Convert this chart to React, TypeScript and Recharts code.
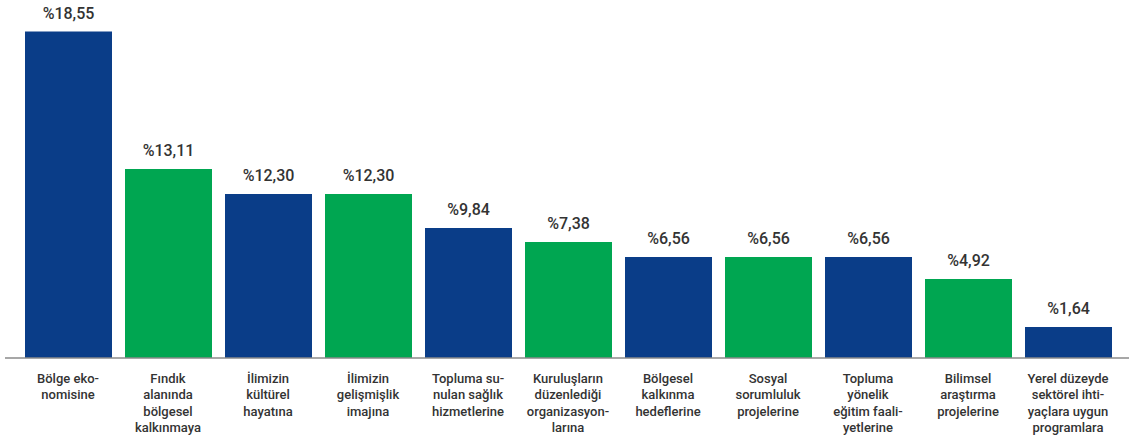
import React from "react"
import { BarChart, Bar, XAxis, YAxis, Cell, LabelList } from "recharts"

// Yüzde değerleri (etiketlerde yazan)
const shares = [18.55, 13.11, 12.3, 12.3, 9.84, 7.38, 6.56, 6.56, 6.56, 4.92, 1.64]

// Çubuklar orijinalde ölçekli çizilmemiş; resimden okunan çubuk boyları (aynı birimde)
const barLengths = [18.55, 10.74, 9.32, 9.32, 7.39, 6.59, 5.74, 5.74, 5.74, 4.49, 1.76]

// Eksen etiketleri, satırlara bölünmüş halde
const categoryLines = [
  ["Bölge eko-", "nomisine"],
  ["Fındık", "alanında", "bölgesel", "kalkınmaya"],
  ["İlimizin", "kültürel", "hayatına"],
  ["İlimizin", "gelişmişlik", "imajına"],
  ["Topluma su-", "nulan sağlık", "hizmetlerine"],
  ["Kuruluşların", "düzenlediği", "organizasyon-", "larına"],
  ["Bölgesel", "kalkınma", "hedeflerine"],
  ["Sosyal", "sorumluluk", "projelerine"],
  ["Topluma", "yönelik", "eğitim faali-", "yetlerine"],
  ["Bilimsel", "araştırma", "projelerine"],
  ["Yerel düzeyde", "sektörel ihti-", "yaçlara uygun", "programlara"],
]

const BLUE = "#0a3d88"
const GREEN = "#00a651"
const TEXT = "#333333"
const FONT = "Roboto, sans-serif"

const chartData = shares.map((share, i) => ({
  id: String(i),
  share,
  length: barLengths[i],
}))

const formatShare = (v: number) => `%${v.toFixed(2).replace(".", ",")}`

const CategoryTick = ({ x, y, payload }: any) => {
  const lines = categoryLines[Number(payload.value)] || []
  return (
    <text
      x={x}
      y={y + 25}
      textAnchor="middle"
      fill={TEXT}
      fontSize={13}
      fontWeight={500}
      fontFamily={FONT}
    >
      {lines.map((line, i) => (
        <tspan key={i} x={x} dy={i === 0 ? 0 : 16.3}>
          {line}
        </tspan>
      ))}
    </text>
  )
}

const ValueLabel = (props: any) => {
  const { x, y, width, index } = props
  return (
    <text
      x={x + width / 2}
      y={y - 13}
      textAnchor="middle"
      fill={TEXT}
      fontSize={16}
      fontWeight={500}
      fontFamily={FONT}
    >
      {formatShare(shares[index])}
    </text>
  )
}

export default function App() {
  return (
    <div style={{ position: "absolute", left: 0, top: 0, background: "#fff" }}>
      <BarChart
        width={1129}
        height={438}
        data={chartData}
        margin={{ top: 6, right: 0, bottom: 0, left: 5 }}
      >
        <XAxis
          dataKey="id"
          type="category"
          height={80}
          padding={{ left: 13, right: 11 }}
          axisLine={{ stroke: "#8a8a8a", strokeWidth: 1.5 }}
          tickLine={false}
          tickSize={0}
          tickMargin={0}
          interval={0}
          tick={<CategoryTick />}
        />
        <YAxis hide domain={[0, 20]} />
        <Bar dataKey="length" barSize={87} isAnimationActive={false}>
          {chartData.map((_, i) => (
            <Cell key={i} fill={i % 2 === 0 ? BLUE : GREEN} />
          ))}
          <LabelList dataKey="share" content={<ValueLabel />} />
        </Bar>
      </BarChart>
    </div>
  )
}
